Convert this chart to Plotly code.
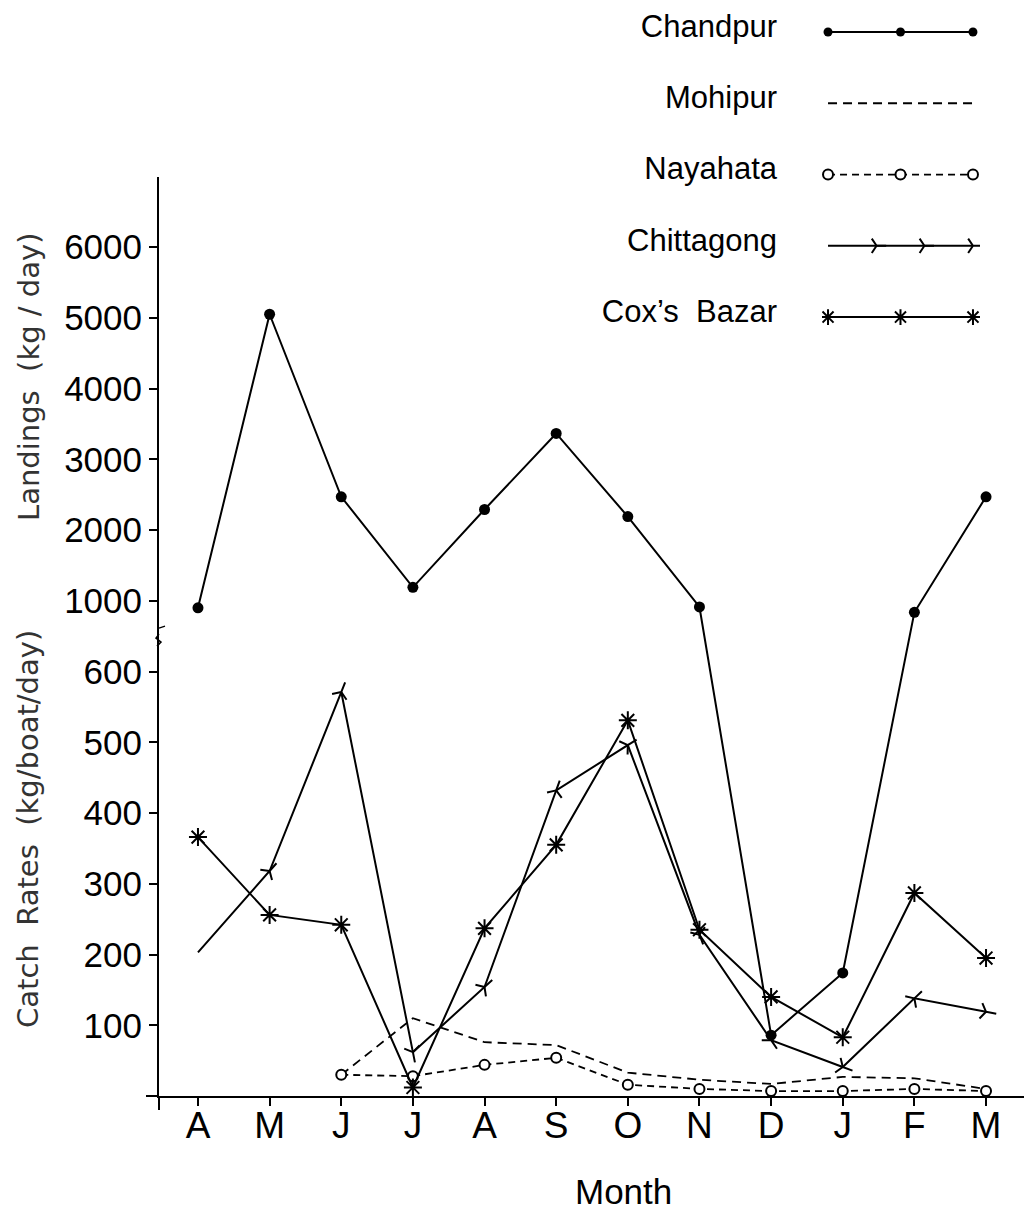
import plotly.graph_objects as go

# ---------------- data ----------------
months = ["A", "M", "J", "J", "A", "S", "O", "N", "D", "J", "F", "M"]
month_pos = list(range(len(months)))

# Landings (kg/day)
chandpur = [960, 5050, 2470, 1190, 2290, 3365, 2190, 965, 86, 174, 935, 2470]
# Catch rates (kg/boat/day)
mohipur = [None, None, 30, 110, 76, 72, 33, 23, 17, 27, 25, 10]
nayahata = [None, None, 30, 28, 44, 54, 16, 10, 7, 7, 10, 7]
chittagong = [203, 318, 571, 62, 154, 432, 496, 228, 79, 41, 138, 119]
coxs_bazar = [366, 256, 242, 12, 237, 355, 531, 235, 140, 83, 287, 195]

lower_ticks = [100, 200, 300, 400, 500, 600]
upper_ticks = [1000, 2000, 3000, 4000, 5000, 6000]

legend_names = ["Chandpur", "Mohipur", "Nayahata", "Chittagong", "Cox\u2019s  Bazar"]
legend_x = [0, 1, 2]
legend_x4 = [0, 0.67, 1.33, 2]


def broken_axis(v):
    """Broken y scale: 0-600 linear, 600-1000 compressed, 1000+ at 1/10."""
    if v is None:
        return None
    if v <= 600:
        return v
    if v < 1000:
        return 600 + (v - 600) / 4
    return 600 + v / 10


tick_vals = [broken_axis(v) for v in lower_ticks + upper_ticks]
tick_text = [str(v) for v in lower_ticks + upper_ticks]

BLACK = "black"
LW = 2

fig = go.Figure()

# Chandpur (landings)
fig.add_trace(go.Scatter(
    x=month_pos, y=[broken_axis(v) for v in chandpur], mode="lines+markers",
    line=dict(color=BLACK, width=LW),
    marker=dict(symbol="circle", size=11, color=BLACK),
    showlegend=False, name="Chandpur"))

# Mohipur
fig.add_trace(go.Scatter(
    x=month_pos, y=mohipur, mode="lines",
    line=dict(color=BLACK, width=1.8, dash="9px,6px"),
    showlegend=False, name="Mohipur"))

# Nayahata
fig.add_trace(go.Scatter(
    x=month_pos, y=nayahata, mode="lines+markers",
    line=dict(color=BLACK, width=1.8, dash="7px,5px"),
    marker=dict(symbol="circle", size=10, color="white", line=dict(color=BLACK, width=2)),
    showlegend=False, name="Nayahata"))

# Chittagong
fig.add_trace(go.Scatter(
    x=month_pos, y=chittagong, mode="lines+markers",
    line=dict(color=BLACK, width=LW),
    marker=dict(symbol="y-up", size=13, angleref="previous", color=BLACK,
                line=dict(color=BLACK, width=2)),
    showlegend=False, name="Chittagong"))

# Cox's Bazar
fig.add_trace(go.Scatter(
    x=month_pos, y=coxs_bazar, mode="lines+markers",
    line=dict(color=BLACK, width=LW),
    marker=dict(symbol="asterisk-open", size=15, color=BLACK, line=dict(color=BLACK, width=2)),
    showlegend=False, name="Cox's Bazar"))

# ---------------- legend key (own small axes) ----------------
lk = dict(xaxis="x2", yaxis="y2", showlegend=False, hoverinfo="skip")
fig.add_trace(go.Scatter(x=legend_x, y=[legend_names[0]] * 3, mode="lines+markers",
                         line=dict(color=BLACK, width=LW),
                         marker=dict(symbol="circle", size=9, color=BLACK), **lk))
fig.add_trace(go.Scatter(x=[legend_x[0], legend_x[-1]], y=[legend_names[1]] * 2, mode="lines",
                         line=dict(color=BLACK, width=1.8, dash="9px,6px"), **lk))
fig.add_trace(go.Scatter(x=legend_x, y=[legend_names[2]] * 3, mode="lines+markers",
                         line=dict(color=BLACK, width=1.8, dash="7px,5px"),
                         marker=dict(symbol="circle", size=10, color="white",
                                     line=dict(color=BLACK, width=2)), **lk))
fig.add_trace(go.Scatter(x=legend_x4, y=[legend_names[3]] * 4, mode="lines+markers",
                         line=dict(color=BLACK, width=LW),
                         marker=dict(symbol="y-up", size=12, angleref="previous", color=BLACK,
                                     line=dict(color=BLACK, width=2)), **lk))
fig.add_trace(go.Scatter(x=legend_x, y=[legend_names[4]] * 3, mode="lines+markers",
                         line=dict(color=BLACK, width=LW),
                         marker=dict(symbol="asterisk-open", size=13, color=BLACK,
                                     line=dict(color=BLACK, width=2)), **lk))

W, H = 1024, 1214
ML, MR, MT, MB = 159, 0, 0, 118
PW, PH = W - ML - MR, H - MT - MB


def px_x(p):
    return (p - ML) / PW


def px_y(p):
    return (H - MB - p) / PH


tick_font = dict(family="Liberation Sans, Arial, sans-serif", size=35, color=BLACK)

fig.update_layout(
    width=W, height=H,
    margin=dict(l=ML, r=MR, t=MT, b=MB, pad=0),
    paper_bgcolor="white", plot_bgcolor="rgba(0,0,0,0)",
    showlegend=False,
    xaxis=dict(
        domain=[0, 1], range=[-0.544, 11.53],
        tickvals=month_pos, ticktext=months,
        tickfont=dict(family="Liberation Sans, Arial, sans-serif", size=37, color=BLACK),
        ticks="outside", ticklen=8, tickwidth=2, tickcolor=BLACK,
        ticklabelstandoff=-12,
        showline=True, linecolor=BLACK, linewidth=2,
        showgrid=False, zeroline=False, automargin=False,
    ),
    yaxis=dict(
        domain=[0, px_y(177)], range=[0, 1299],
        tickvals=tick_vals, ticktext=tick_text, tickfont=tick_font,
        ticks="outside", ticklen=8, tickwidth=1.5, tickcolor=BLACK,
        showline=True, linecolor=BLACK, linewidth=2,
        showgrid=False, zeroline=False, automargin=False,
    ),
    xaxis2=dict(
        domain=[px_x(822), px_x(980)], range=[-0.083, 2.097], anchor="y2",
        visible=False,
    ),
    yaxis2=dict(
        domain=[px_y(352), 1], anchor="x2", type="category",
        categoryorder="array", categoryarray=legend_names,
        range=[4.49, -0.449],
        tickfont=dict(family="Liberation Sans, Arial, sans-serif", size=31, color=BLACK),
        ticks="", showline=False, showgrid=False, zeroline=False,
        ticklabelstandoff=44, ticklabelshift=6, automargin=False,
    ),
    annotations=[
        dict(text="Landings  (kg / day)", x=px_x(29), y=px_y(377), xref="paper", yref="paper",
             textangle=-90, showarrow=False, xanchor="center", yanchor="middle",
             font=dict(family="DejaVu Sans, sans-serif", size=29, color="#333333")),
        dict(text="Catch  Rates  (kg/boat/day)", x=px_x(28), y=px_y(829), xref="paper", yref="paper",
             textangle=-90, showarrow=False, xanchor="center", yanchor="middle",
             font=dict(family="DejaVu Sans, sans-serif", size=29, color="#333333")),
        dict(text="Month", x=px_x(623), y=px_y(1191), xref="paper", yref="paper",
             showarrow=False, xanchor="center", yanchor="middle",
             font=dict(family="Liberation Sans, Arial, sans-serif", size=35, color=BLACK)),
    ],
    shapes=[
        # axis stubs beyond the crossing point
        dict(type="line", xref="paper", yref="paper", x0=px_x(146), x1=0, y0=0, y1=0,
             line=dict(color=BLACK, width=2)),
        dict(type="line", xref="paper", yref="paper", x0=0, x1=0, y0=px_y(1110), y1=0,
             line=dict(color=BLACK, width=2)),
        # axis break mark
        dict(type="path", xref="paper", xsizemode="pixel", xanchor=0,
             yref="y", ysizemode="pixel", yanchor=broken_axis(800),
             path="M 0,8 L 6,10 M 0,2 L -3,-2 L 2,-6 L -2,-10",
             line=dict(color=BLACK, width=1.5)),
    ],
)

fig.write_html("out.html")
